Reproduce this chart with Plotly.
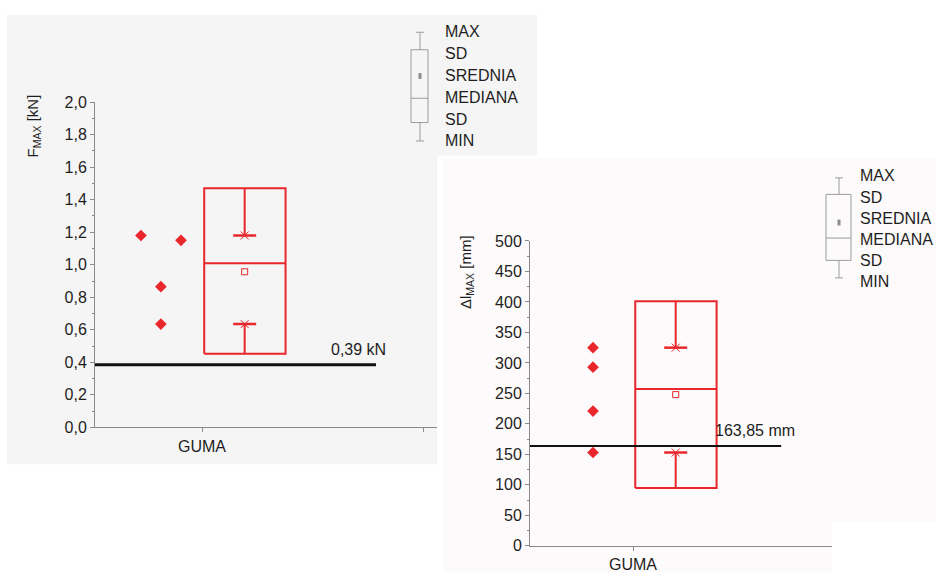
import plotly.graph_objects as go

# ---------------- data ----------------
categories = ["GUMA"]

# left panel: F_MAX [kN]
f_points = [1.18, 1.15, 0.865, 0.635]
f_box_low = [0.452]
f_box_high = [1.47]
f_median = [1.01]
f_mean = [0.957]
f_cap_low = [0.635]
f_cap_high = [1.18]
f_ref = [0.385]
f_ref_label = ["0,39 kN"]
f_ticks = [0.0, 0.2, 0.4, 0.6, 0.8, 1.0, 1.2, 1.4, 1.6, 1.8, 2.0]

# right panel: delta l_MAX [mm]
d_points = [325, 293, 221, 153]
d_box_low = [95]
d_box_high = [401]
d_median = [257]
d_mean = [248]
d_cap_low = [153]
d_cap_high = [325]
d_ref = [163.85]
d_ref_label = ["163,85 mm"]
d_ticks = [0, 50, 100, 150, 200, 250, 300, 350, 400, 450, 500]

legend_labels = ["MAX", "SD", "SREDNIA", "MEDIANA", "SD", "MIN"]

# ---------------- styling / layout helpers ----------------
W, H = 936, 581
def px(x): return x / W
def py(y): return 1 - y / H

RED = "#e8262b"
FONT = "Liberation Sans, Arial, sans-serif"
TXT = "#1e1e1e"
AX = "#8a8a8a"

f_jitter = [0.724, 0.905, 0.814, 0.814]
d_jitter = [0.819, 0.819, 0.819, 0.819]
BOX_X0, BOX_X1, BOX_C, CAP_W = 1.01, 1.378, 1.193, 0.052

fig = go.Figure()

def add_panel(xa, ya, pts, jit, lo, hi, med, mean, clo, chi, ref, ref_end, lw_ref):
    xs = dict(xaxis=xa, yaxis=ya, showlegend=False, hoverinfo="skip")
    fig.add_trace(go.Scatter(x=[BOX_X0, BOX_X1, BOX_X1, BOX_X0, BOX_X0],
                             y=[lo, lo, hi, hi, lo], mode="lines",
                             line=dict(color=RED, width=2), **xs))
    fig.add_trace(go.Scatter(x=[BOX_X0, BOX_X1], y=[med, med], mode="lines",
                             line=dict(color=RED, width=2), **xs))
    fig.add_trace(go.Scatter(x=[BOX_C, BOX_C, None, BOX_C, BOX_C],
                             y=[hi, chi, None, lo, clo], mode="lines",
                             line=dict(color=RED, width=2), **xs))
    fig.add_trace(go.Scatter(x=[BOX_C - CAP_W, BOX_C + CAP_W, None, BOX_C - CAP_W, BOX_C + CAP_W],
                             y=[chi, chi, None, clo, clo], mode="lines",
                             line=dict(color=RED, width=2.5), **xs))
    fig.add_trace(go.Scatter(x=[BOX_C, BOX_C], y=[chi, clo], mode="markers",
                             marker=dict(symbol="x-thin", size=8,
                                         line=dict(color=RED, width=1)), **xs))
    fig.add_trace(go.Scatter(x=[BOX_C], y=[mean], mode="markers",
                             marker=dict(symbol="square-open", size=6,
                                         line=dict(color=RED, width=1), color=RED), **xs))
    fig.add_trace(go.Scatter(x=jit, y=pts, mode="markers",
                             marker=dict(symbol="diamond", size=9, color=RED), **xs))
    fig.add_trace(go.Scatter(x=[0.3, ref_end], y=[ref, ref], mode="lines",
                             line=dict(color="#111111", width=lw_ref), **xs))

add_panel("x", "y", f_points, f_jitter, f_box_low[0], f_box_high[0], f_median[0],
          f_mean[0], f_cap_low[0], f_cap_high[0], f_ref[0], 1.787, 3)
add_panel("x2", "y2", d_points, d_jitter, d_box_low[0], d_box_high[0], d_median[0],
          d_mean[0], d_cap_low[0], d_cap_high[0], d_ref[0], 1.67, 2)

tickfont = dict(family=FONT, size=16, color=TXT)

def yax(domain, xa, rng, ticks, fmt, minor_dtick):
    return dict(domain=domain, anchor=xa, range=rng, tickvals=ticks, tickformat=fmt,
                showgrid=False, zeroline=False, showline=True, linecolor=AX, linewidth=1,
                ticks="outside", ticklen=4, tickcolor=AX, tickfont=tickfont,
                minor=dict(dtick=minor_dtick, ticks="outside", ticklen=2, tickcolor=AX,
                           showgrid=False),
                fixedrange=True)

def xax(domain, ya, rng, ticks):
    return dict(domain=domain, anchor=ya, range=rng, tickvals=ticks,
                ticktext=categories + [" "] * (len(ticks) - 1),
                showgrid=False, zeroline=False, showline=True, linecolor=AX, linewidth=1,
                ticks="outside", ticklen=4, tickcolor=AX, tickfont=tickfont,
                fixedrange=True)

shapes = [
    dict(type="rect", xref="paper", yref="paper", x0=px(7), x1=px(537), y0=py(470), y1=py(7),
         fillcolor="#f5f5f5", line=dict(width=0), layer="below"),
    dict(type="rect", xref="paper", yref="paper", x0=px(437), x1=px(936), y0=py(581), y1=py(152),
         fillcolor="#ffffff", line=dict(width=0), layer="below"),
    dict(type="rect", xref="paper", yref="paper", x0=px(443), x1=px(936), y0=py(530), y1=py(155),
         fillcolor="#fcfafa", line=dict(width=0), layer="below"),
    dict(type="rect", xref="paper", yref="paper", x0=px(443), x1=px(832), y0=py(581), y1=py(529),
         fillcolor="#fcfafa", line=dict(width=0), layer="below"),
]
annotations = []

def legend_glyph(cx, bx0, bx1, ycap_top, ybox_top, ymean, ymed, ybox_bot, ycap_bot, tx, ty0, dy):
    g = "#9c9c9c"
    s = [
        dict(type="line", x0=px(cx), x1=px(cx), y0=py(ycap_top), y1=py(ybox_top)),
        dict(type="line", x0=px(cx - 4), x1=px(cx + 4), y0=py(ycap_top), y1=py(ycap_top)),
        dict(type="rect", x0=px(bx0), x1=px(bx1), y0=py(ybox_bot), y1=py(ybox_top)),
        dict(type="line", x0=px(bx0), x1=px(bx1), y0=py(ymed), y1=py(ymed)),
        dict(type="line", x0=px(cx), x1=px(cx), y0=py(ybox_bot), y1=py(ycap_bot)),
        dict(type="line", x0=px(cx - 4), x1=px(cx + 4), y0=py(ycap_bot), y1=py(ycap_bot)),
    ]
    for sh in s:
        sh.update(xref="paper", yref="paper", line=dict(color=g, width=1))
        shapes.append(sh)
    shapes.append(dict(type="rect", xref="paper", yref="paper", x0=px(cx - 1.5), x1=px(cx + 1.5),
                       y0=py(ymean + 3), y1=py(ymean - 3), fillcolor="#8c8c8c",
                       line=dict(width=0)))
    for i, lab in enumerate(legend_labels):
        annotations.append(dict(xref="paper", yref="paper", x=px(tx), y=py(ty0 + i * dy),
                                text=lab, showarrow=False, xanchor="left", yanchor="middle",
                                font=dict(family=FONT, size=16, color=TXT)))

legend_glyph(420, 411, 428, 25, 43, 70, 93, 118, 137, 443, 24, 22.6)
legend_glyph(839, 826, 851, 175, 192, 221, 237, 260, 278, 858, 173, 21.8)

annotations += [
    dict(xref="paper", yref="paper", x=px(33), y=py(122), text="F<sub>MAX</sub> [kN]",
         textangle=-90, showarrow=False, xanchor="center", yanchor="middle",
         font=dict(family=FONT, size=15, color=TXT)),
    dict(xref="paper", yref="paper", x=px(466), y=py(272), text="Δl<sub>MAX</sub> [mm]",
         textangle=-90, showarrow=False, xanchor="center", yanchor="middle",
         font=dict(family=FONT, size=15, color=TXT)),
    dict(xref="x", yref="y", x=1.71, y=f_ref[0], yshift=15, text=f_ref_label[0], showarrow=False,
         xanchor="center", yanchor="middle", font=dict(family=FONT, size=16, color=TXT)),
    dict(xref="x2", yref="y2", x=1.55, y=d_ref[0], yshift=15, text=d_ref_label[0], showarrow=False,
         xanchor="center", yanchor="middle", font=dict(family=FONT, size=16, color=TXT)),
]

fig.update_layout(
    width=W, height=H, margin=dict(l=0, r=0, t=0, b=0),
    paper_bgcolor="white", plot_bgcolor="rgba(0,0,0,0)",
    separators=",.",
    xaxis=xax([px(95), px(437)], "y", [0.516, 2.063], [1, 2]),
    yaxis=yax([py(432), py(97)], "x", [0, 2.0], f_ticks, ".1f", 0.1),
    xaxis2=xax([px(530), px(832)], "y2", [0.534, 1.900], [1]),
    yaxis2=yax([py(554), py(240)], "x2", [0, 500], d_ticks, "d", 25),
    shapes=shapes, annotations=annotations,
)

post = (
    "var d=document.getElementById('{plot_id}');"
    "document.documentElement.style.margin='0';document.documentElement.style.padding='0';"
    "document.documentElement.style.overflow='hidden';"
    "document.body.style.margin='0';document.body.style.padding='0';"
    "document.body.style.overflow='hidden';"
    "d.style.position='fixed';d.style.top='0px';d.style.left='0px';"
)

fig.write_html("out.html", config={"displayModeBar": False}, post_script=post)
